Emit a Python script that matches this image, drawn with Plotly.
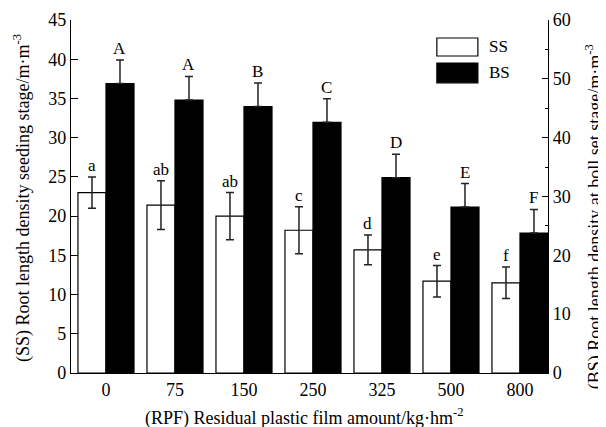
import plotly.graph_objects as go

categories = ["0", "75", "150", "250", "325", "500", "800"]
ss_values = [23.0, 21.4, 20.0, 18.2, 15.7, 11.7, 11.5]
ss_errors = [2.0, 3.1, 3.0, 3.0, 1.9, 2.0, 2.0]
ss_letters = ["a", "ab", "ab", "c", "d", "e", "f"]
bs_values = [49.2, 46.4, 45.3, 42.6, 33.2, 28.2, 23.8]
bs_errors = [4.0, 4.0, 4.0, 4.0, 4.0, 4.0, 4.0]
bs_letters = ["A", "A", "B", "C", "D", "E", "F"]

x_title = "(RPF) Residual plastic film amount/kg·hm<sup>-2</sup>"
y_title = "(SS) Root length density seeding stage/m·m<sup>-3</sup>"
y2_title = "(BS) Root length density at boll set stage/m·m<sup>-3</sup>"

FONT = "Liberation Serif, Times New Roman, serif"
TICK = 18
TITLE = 18
idx = list(range(len(categories)))
W = 0.406

fig = go.Figure()
fig.add_trace(go.Bar(
    x=idx, y=ss_values, width=W, offset=-W, name="SS",
    marker=dict(color="white", line=dict(color="black", width=1.2)),
    error_y=dict(type="data", array=ss_errors, color="#222", thickness=1.5, width=4),
    yaxis="y", showlegend=False,
))
fig.add_trace(go.Bar(
    x=idx, y=bs_values, width=W, offset=0, name="BS",
    marker=dict(color="black", line=dict(color="black", width=1.2)),
    error_y=dict(type="data", symmetric=False, array=bs_errors,
                 arrayminus=[0] * len(bs_errors), color="#222", thickness=1.5, width=4),
    yaxis="y2", showlegend=False,
))

ann = []
for i in idx:
    ann.append(dict(x=i - W / 2, y=ss_values[i] + ss_errors[i], xref="x", yref="y",
                    text=ss_letters[i], showarrow=False, yanchor="bottom", yshift=0,
                    font=dict(family=FONT, size=17, color="black")))
    ann.append(dict(x=i + W / 2, y=bs_values[i] + bs_errors[i], xref="x", yref="y2",
                    text=bs_letters[i], showarrow=False, yanchor="bottom", yshift=0,
                    font=dict(family=FONT, size=17, color="black")))

# legend (manual, large swatches)
ann.append(dict(x=0.872, y=0.924, xref="paper", yref="paper", text="SS", showarrow=False,
                xanchor="left", yanchor="middle", font=dict(family=FONT, size=17, color="black")))
ann.append(dict(x=0.872, y=0.850, xref="paper", yref="paper", text="BS", showarrow=False,
                xanchor="left", yanchor="middle", font=dict(family=FONT, size=17, color="black")))

# axis titles
ann.append(dict(x=0.488, y=-0.1246, xref="paper", yref="paper", text=x_title, showarrow=False,
                xanchor="center", yanchor="middle", font=dict(family=FONT, size=TITLE, color="black")))
ann.append(dict(x=-0.1027, y=0.4958, xref="paper", yref="paper", text=y_title, showarrow=False,
                textangle=-90, xanchor="center", yanchor="middle",
                font=dict(family=FONT, size=TITLE, color="black")))
ann.append(dict(x=1.097, y=0.442, xref="paper", yref="paper", text=y2_title, showarrow=False,
                textangle=-90, xanchor="center", yanchor="middle",
                font=dict(family=FONT, size=TITLE, color="black")))

shapes = [
    dict(type="rect", xref="paper", yref="paper", x0=0.767, x1=0.853, y0=0.898, y1=0.949,
         line=dict(color="black", width=1.2), fillcolor="white"),
    dict(type="rect", xref="paper", yref="paper", x0=0.767, x1=0.853, y0=0.822, y1=0.878,
         line=dict(color="black", width=1.2), fillcolor="black"),
]

# page body has an 8px margin: figure is 8px smaller and margins compensate
fig.update_layout(
    width=598, height=419,
    margin=dict(l=63, r=58, t=12, b=54),
    paper_bgcolor="white", plot_bgcolor="white",
    font=dict(family=FONT, size=TICK, color="black"),
    annotations=ann, shapes=shapes,
    xaxis=dict(
        range=[-0.507, 6.406], tickmode="array", tickvals=idx, ticktext=categories,
        showline=True, linecolor="black", linewidth=1.2, ticks="", showgrid=False,
        zeroline=False, tickfont=dict(family=FONT, size=TICK), automargin=False,
    ),
    yaxis=dict(
        range=[0, 45], dtick=5, showline=True, linecolor="black", linewidth=1.2,
        ticks="inside", ticklen=7, tickcolor="black", showgrid=False, zeroline=False,
        tickfont=dict(family=FONT, size=TICK), automargin=False,
    ),
    yaxis2=dict(
        range=[0, 60], dtick=10, overlaying="y", side="right", showline=True,
        linecolor="black", linewidth=1.2, ticks="inside", ticklen=6, tickcolor="black",
        minor=dict(dtick=5, ticks="inside", ticklen=3, tickcolor="black"),
        showgrid=False, zeroline=False, tickfont=dict(family=FONT, size=TICK),
        automargin=False,
    ),
)

fig.write_html("out.html")
